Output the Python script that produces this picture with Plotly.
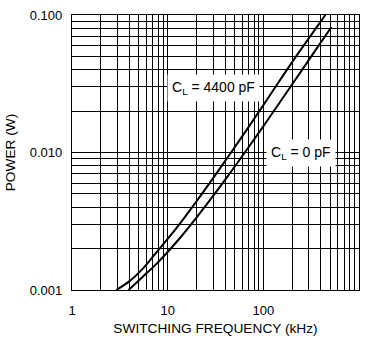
import plotly.graph_objects as go

# Switching frequency (kHz) vs. power dissipation (W)
freq_4400pF = [2.9, 4.0, 5.5, 7.5, 10, 14, 20, 30, 46, 70, 110, 200, 305, 445]
power_4400pF = [0.00100, 0.00116, 0.00143, 0.00185, 0.00235, 0.00316, 0.00441, 0.00654, 0.0100,
                0.0153, 0.0244, 0.0454, 0.0690, 0.1000]

freq_0pF = [3.9, 5.5, 7.5, 10, 14, 20, 30, 45, 64, 100, 150, 250, 380, 515]
power_0pF = [0.00100, 0.00125, 0.00153, 0.00189, 0.00247, 0.00336, 0.00485, 0.00710, 0.0100,
             0.0155, 0.0234, 0.0392, 0.0601, 0.0818]

x_tick_vals = [1, 10, 100, 1000]
x_tick_text = ["1", "10", "100", "1000"]
y_tick_vals = [0.001, 0.01, 0.1]
y_tick_text = ["0.001", "0.010", "0.100"]

x_minor = [m * d for d in (1, 10, 100) for m in range(2, 10)]
y_minor = [m * d for d in (0.001, 0.01) for m in range(2, 10)]

FONT = "Liberation Sans, Arial, sans-serif"

fig = go.Figure()
for fx, py in ((freq_4400pF, power_4400pF), (freq_0pF, power_0pF)):
    fig.add_trace(go.Scatter(x=fx, y=py, mode="lines",
                             line=dict(color="black", width=2, shape="spline", smoothing=1.0),
                             showlegend=False, hoverinfo="skip"))

axis_common = dict(
    showline=True, linecolor="black", linewidth=1.3, mirror=True,
    showgrid=True, gridcolor="black", gridwidth=1.3,
    zeroline=False, ticks="", tickfont=dict(family=FONT, size=13, color="black"),
)

fig.update_xaxes(
    type="log", range=[0, 3], tickmode="array", tickvals=x_tick_vals, ticktext=x_tick_text,
    minor=dict(tickmode="array", tickvals=x_minor, showgrid=True, gridcolor="black", gridwidth=1.3, ticks=""),
    title=dict(text="SWITCHING FREQUENCY (kHz)", font=dict(family=FONT, size=13.7, color="black"), standoff=6),
    ticklabelstandoff=8,
    **axis_common,
)
fig.update_yaxes(
    type="log", range=[-3, -1], tickmode="array", tickvals=y_tick_vals, ticktext=y_tick_text,
    minor=dict(tickmode="array", tickvals=y_minor, showgrid=True, gridcolor="black", gridwidth=1.3, ticks=""),
    title=dict(text="POWER (W)", font=dict(family=FONT, size=13.7, color="black"), standoff=10),
    ticklabelstandoff=6,
    **axis_common,
)

# Log axes: annotation positions are given in log10 units
fig.add_annotation(x=1.476, y=-1.531, xref="x", yref="y", text="C<sub>L</sub> = 4400 pF",
                   showarrow=False, bgcolor="white", borderpad=4,
                   font=dict(family=FONT, size=14, color="black"))
fig.add_annotation(x=2.396, y=-2.005, xref="x", yref="y", text="C<sub>L</sub> = 0 pF",
                   showarrow=False, bgcolor="white", borderpad=4,
                   font=dict(family=FONT, size=14, color="black"))

fig.update_layout(
    width=369, height=341,
    margin=dict(l=72, r=10, t=8, b=48),
    paper_bgcolor="white", plot_bgcolor="white",
    font=dict(family=FONT, size=13, color="black"),
)

fig.write_html("out.html")
